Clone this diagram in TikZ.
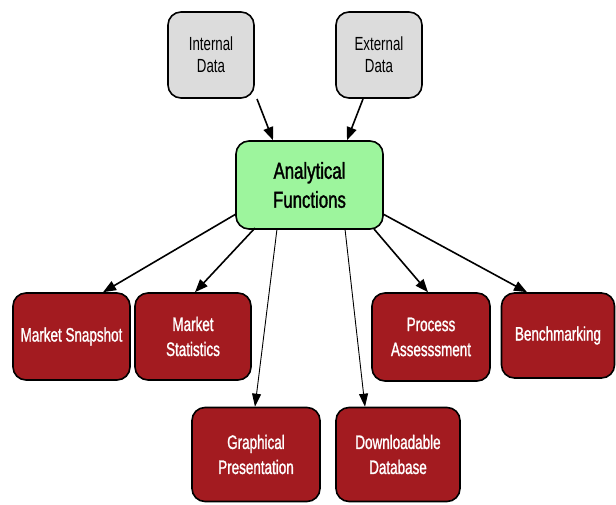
\documentclass[tikz,border=0pt]{standalone}
\usepackage{fontspec}
\setmainfont{Liberation Sans}
\newfontfamily\narrowA{Liberation Sans}[FakeStretch=0.70]
\newfontfamily\narrowR{Liberation Sans}[FakeStretch=0.69,FakeBold=1.2]
\newfontfamily\narrowB{Liberation Sans}[FakeStretch=0.73,FakeBold=1.5]
\usetikzlibrary{arrows.meta}
\definecolor{boxgray}{HTML}{DCDCDC}
\definecolor{boxgreen}{HTML}{9DF59D}
\definecolor{boxred}{HTML}{A31B20}
\begin{document}
\begin{tikzpicture}[x=1pt,y=-1pt,
  base/.style={draw=black, line width=1.6pt, rounded corners=13pt, align=center, inner sep=0pt},
  graybox/.style={base, fill=boxgray, font=\narrowA\fontsize{19}{22}\selectfont},
  greenbox/.style={base, fill=boxgreen, font=\narrowB\fontsize{23}{29}\selectfont},
  redbox/.style={base, fill=boxred, text=white, font=\narrowR\fontsize{19.5}{25}\selectfont},
  arr/.style={-{Triangle[length=13pt,width=10pt]}, line width=1.6pt},
  thinarr/.style={-{Triangle[length=13pt,width=9pt]}, line width=0.9pt}]
\useasboundingbox (0,0) rectangle (616,504);
\node[graybox, minimum width=86pt, minimum height=86pt] (int) at (211,55) {Internal\\Data};
\node[graybox, minimum width=86pt, minimum height=86pt] (ext) at (379,55) {External\\Data};
\node[greenbox, minimum width=147pt, minimum height=88pt] (ana) at (309.5,185) {Analytical\\Functions};
\node[redbox, minimum width=117pt, minimum height=87pt] (snap) at (71.5,336.5) {Market Snapshot};
\node[redbox, minimum width=116pt, minimum height=87pt] (stat) at (193,336.5) {Market\\Statistics};
\node[redbox, minimum width=118pt, minimum height=88pt] (proc) at (431,337) {Process\\Assesssment};
\node[redbox, minimum width=113pt, minimum height=85pt] (bench) at (558,335.5) {Benchmarking};
\node[redbox, minimum width=128pt, minimum height=94pt] (graph) at (256,454.5) {Graphical\\Presentation};
\node[redbox, minimum width=124pt, minimum height=94pt] (down) at (398,454.5) {Downloadable\\Database};
\coordinate (i1) at (257,99);
\coordinate (e1) at (363,99);
\draw[arr] (i1) -- (ana.north -| 273,0);
\draw[arr] (e1) -- (ana.north -| 347,0);
\coordinate (a1) at (236,214);
\coordinate (a2) at (255,228);
\coordinate (a3) at (277,229);
\coordinate (a4) at (345,229);
\coordinate (a5) at (374,229);
\coordinate (a6) at (383,214);
\draw[arr] (a1) -- (snap.north -| 103,0);
\draw[arr] (a2) -- (stat.north -| 195,0);
\draw[thinarr] (a3) -- (graph.north -| 255,0);
\draw[thinarr] (a4) -- (down.north -| 365,0);
\draw[arr] (a5) -- (proc.north -| 428,0);
\draw[arr] (a6) -- (bench.north -| 527,0);
\end{tikzpicture}
\end{document}
